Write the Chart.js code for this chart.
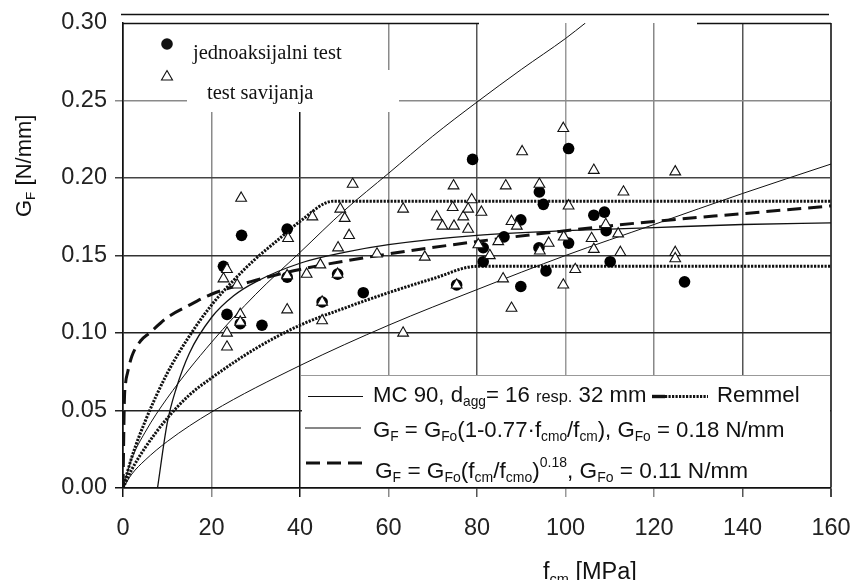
<!DOCTYPE html>
<html>
<head>
<meta charset="utf-8">
<script src="https://cdn.jsdelivr.net/npm/chart.js@4.4.0/dist/chart.umd.min.js"></script>
<style>
  body { margin: 0; background: #fff; }
  #wrap { width: 851px; height: 580px; position: relative; }
</style>
</head>
<body>
<div id="wrap"><canvas id="gfChart"></canvas></div>
<script>
// jednoaksijalni test (filled circles)
var circleX = [22.7, 23.5, 26.5, 26.8, 31.4, 37.1, 37.1, 45.0, 48.5, 54.3, 75.4, 79.0, 81.4, 81.4, 86.1, 89.9, 89.9, 94.1, 95.0, 94.0, 95.6, 100.7, 100.7, 106.4, 108.8, 109.2, 110.1, 126.9];
var circleY = [0.143, 0.112, 0.106, 0.163, 0.105, 0.167, 0.136, 0.120, 0.138, 0.126, 0.131, 0.212, 0.155, 0.146, 0.162, 0.173, 0.130, 0.191, 0.183, 0.155, 0.140, 0.219, 0.158, 0.176, 0.178, 0.166, 0.146, 0.133];

// test savijanja (open triangles)
var triangleX = [22.7, 23.5, 23.5, 23.5, 25.8, 26.5, 26.5, 26.7, 37.1, 37.3, 37.1, 41.5, 42.8, 44.6, 45.0, 45.0, 48.5, 48.6, 49.1, 50.1, 51.1, 51.9, 57.4, 63.3, 63.3, 68.2, 70.9, 72.2, 74.5, 74.7, 74.8, 75.4, 76.9, 78.0, 78.0, 78.8, 80.3, 81.0, 82.9, 84.8, 85.9, 86.5, 87.8, 87.8, 89.0, 90.2, 94.1, 94.2, 96.2, 99.5, 99.6, 99.5, 100.7, 102.2, 105.9, 106.4, 106.4, 109.1, 111.9, 112.4, 113.1, 124.8, 124.8, 124.8];
var triangleY = [0.135, 0.141, 0.100, 0.091, 0.131, 0.112, 0.107, 0.187, 0.137, 0.161, 0.115, 0.138, 0.175, 0.144, 0.120, 0.108, 0.138, 0.155, 0.180, 0.174, 0.163, 0.196, 0.151, 0.180, 0.100, 0.149, 0.175, 0.169, 0.181, 0.195, 0.169, 0.131, 0.175, 0.180, 0.167, 0.186, 0.157, 0.178, 0.150, 0.159, 0.135, 0.195, 0.172, 0.116, 0.169, 0.217, 0.196, 0.153, 0.158, 0.232, 0.162, 0.131, 0.182, 0.141, 0.161, 0.205, 0.154, 0.170, 0.164, 0.152, 0.191, 0.204, 0.152, 0.148];

// MC 90, d_agg = 16 mm
var mc16X = [0, 2, 5, 10, 20, 40, 60, 80, 100, 120, 140, 160];
var mc16Y = [0, 0.009, 0.018, 0.030, 0.049, 0.079, 0.105, 0.128, 0.150, 0.170, 0.190, 0.209];
// MC 90, d_agg = 32 mm
var mc32X = [0, 2, 5, 10, 20, 30, 40, 50, 60, 70, 80, 90, 100, 104.5];
var mc32Y = [0, 0.019, 0.036, 0.058, 0.094, 0.125, 0.152, 0.179, 0.203, 0.227, 0.249, 0.270, 0.290, 0.300];

// Remmel (dotted), upper and lower
var remUpX = [0, 2, 5, 10, 15, 20, 25, 30, 35, 40, 47.5, 160];
var remUpY = [0, 0.020, 0.043, 0.074, 0.098, 0.118, 0.134, 0.148, 0.160, 0.172, 0.185, 0.185];
var remLoX = [0, 2, 5, 10, 15, 20, 30, 40, 50, 60, 70, 80, 160];
var remLoY = [0, 0.012, 0.026, 0.045, 0.060, 0.071, 0.090, 0.105, 0.116, 0.126, 0.135, 0.143, 0.143];

// G_F = G_Fo(1-0.77 f_cmo/f_cm)
var linX = [7.8, 10, 12, 15, 20, 25, 30, 40, 50, 60, 80, 100, 120, 140, 160];
var linY = [0, 0.042, 0.064, 0.087, 0.110, 0.124, 0.133, 0.145, 0.152, 0.157, 0.163, 0.166, 0.168, 0.170, 0.171];

// G_F = G_Fo(f_cm/f_cmo)^0.18 (dashed)
var powX = [0, 0.3, 0.6, 1, 2, 4, 6, 10, 15, 20, 30, 40, 60, 80, 100, 120, 140, 160];
var powY = [0, 0.055, 0.068, 0.074, 0.085, 0.095, 0.100, 0.110, 0.118, 0.125, 0.134, 0.141, 0.151, 0.159, 0.166, 0.172, 0.177, 0.182];

var xTicks = [0, 20, 40, 60, 80, 100, 120, 140, 160];
var yTickLabels = ['0.00', '0.05', '0.10', '0.15', '0.20', '0.25', '0.30'];

function pts(xs, ys) {
    return xs.map(function (x, i) { return { x: x, y: ys[i] }; });
}

var SANS = '"Liberation Sans", Arial, sans-serif';
var SERIF = '"Liberation Serif", "Times New Roman", serif';
var INK = '#111';
var DOTS = [2.2, 1.3];

function curve(xs, ys, width, dash) {
    return {
        type: 'line',
        data: pts(xs, ys),
        showLine: true,
        borderColor: INK,
        borderWidth: width,
        borderDash: dash,
        pointRadius: 0,
        fill: false,
        cubicInterpolationMode: 'monotone'
    };
}

function drawRich(ctx, x, y, parts, size) {
    parts.forEach(function (p) {
        var kind = p[1] || 'n';
        var fs = size, dy = 0;
        if (kind === 'b') { fs = size * 0.62; dy = size * 0.2; }
        if (kind === 'p') { fs = size * 0.62; dy = -size * 0.45; }
        if (kind === 's') { fs = size * 0.74; }
        ctx.font = fs + 'px ' + SANS;
        ctx.fillText(p[0], x, y + dy);
        x += ctx.measureText(p[0]).width;
    });
    return x;
}

function hline(ctx, x1, x2, y, color, width, dash) {
    ctx.save();
    ctx.strokeStyle = color;
    ctx.lineWidth = width;
    ctx.setLineDash(dash || []);
    ctx.beginPath();
    ctx.moveTo(x1, y);
    ctx.lineTo(x2, y);
    ctx.stroke();
    ctx.restore();
}

var decorPlugin = {
    id: 'decor',
    beforeDatasetsDraw: function (chart) {
        var ctx = chart.ctx;
        ctx.save();
        ctx.fillStyle = '#fff';
        // white boxes behind the two legends
        ctx.fillRect(124, 24, 262, 46);
        ctx.fillRect(187, 70, 212, 42);
        ctx.fillRect(302, 376, 528, 111);
        ctx.restore();
        hline(ctx, 301, 830, 375.5, '#999', 1.2);
    },
    afterDatasetsDraw: function (chart) {
        var ctx = chart.ctx;
        ctx.save();
        ctx.fillStyle = INK;
        ctx.textBaseline = 'alphabetic';

        // frame extras
        hline(ctx, 121, 829, 14.5, INK, 1.5);
        hline(ctx, 123, 479, 23.5, INK, 1.5);
        hline(ctx, 697, 831, 23.5, INK, 1.5);

        // upper-left legend
        ctx.beginPath();
        ctx.arc(167, 44, 5.8, 0, Math.PI * 2);
        ctx.fill();
        ctx.beginPath();
        ctx.moveTo(167, 70.5);
        ctx.lineTo(172.5, 80);
        ctx.lineTo(161.5, 80);
        ctx.closePath();
        ctx.lineWidth = 1.1;
        ctx.strokeStyle = INK;
        ctx.stroke();
        ctx.font = '20.5px ' + SERIF;
        ctx.fillText('jednoaksijalni test', 193, 59);
        ctx.fillText('test savijanja', 207, 99);

        // lower-right legend
        var fs = 22.2;
        hline(ctx, 308, 363, 396.5, INK, 1.2);
        drawRich(ctx, 373, 402, [['MC 90, d'], ['agg', 'b'], ['= 16 '], ['resp.', 's'], [' 32 mm']], fs);
        hline(ctx, 652, 665, 396.5, INK, 3.4);
        hline(ctx, 665, 708, 396.5, INK, 3, DOTS);
        drawRich(ctx, 717, 402, [['Remmel']], fs);

        hline(ctx, 305, 361, 428, INK, 1.2);
        drawRich(ctx, 373, 437, [['G'], ['F', 'b'], [' = G'], ['Fo', 'b'], ['(1-0.77\u00b7f'], ['cmo', 'b'], ['/f'], ['cm', 'b'], ['), G'], ['Fo', 'b'], [' = 0.18 N/mm']], fs);

        hline(ctx, 306, 362, 463, INK, 3, [14, 7]);
        drawRich(ctx, 375, 477.5, [['G'], ['F', 'b'], [' = G'], ['Fo', 'b'], ['(f'], ['cm', 'b'], ['/f'], ['cmo', 'b'], [')'], ['0.18', 'p'], [', G'], ['Fo', 'b'], [' = 0.11 N/mm']], 22.6);

        // axis titles
        drawRich(ctx, 543, 579, [['f'], ['cm', 'b'], [' [MPa]']], 23.5);
        ctx.save();
        ctx.translate(31, 217);
        ctx.rotate(-Math.PI / 2);
        drawRich(ctx, 0, 0, [['G'], ['F', 'b'], [' [N/mm]']], 22);
        ctx.restore();
        ctx.restore();
    }
};

var xGridColor = { 0: INK, 20: '#8a8a8a', 40: '#111', 60: '#8a8a8a', 80: '#555', 100: '#999', 120: '#888', 140: '#555', 160: '#444' };
var yGridColor = ['#111', '#222', '#222', '#333', '#444', '#8a8a8a', 'rgba(0,0,0,0)'];

new Chart(document.getElementById('gfChart').getContext('2d'), {
    type: 'scatter',
    data: {
        datasets: [
            {
                label: 'test savijanja',
                data: pts(triangleX, triangleY),
                pointStyle: 'triangle',
                pointRadius: 6.2,
                backgroundColor: '#fff',
                borderColor: INK,
                borderWidth: 1.1
            },
            {
                label: 'jednoaksijalni test',
                data: pts(circleX, circleY),
                pointStyle: 'circle',
                pointRadius: 5.8,
                backgroundColor: '#000',
                borderColor: '#000',
                borderWidth: 0
            },
            curve(powX, powY, 3, [14, 7]),
            curve(linX, linY, 1.3, []),
            curve(mc16X, mc16Y, 1, []),
            curve(mc32X, mc32Y, 1, []),
            curve(remUpX, remUpY, 3, DOTS),
            curve(remLoX, remLoY, 3, DOTS)
        ]
    },
    options: {
        responsive: true,
        maintainAspectRatio: false,
        animation: false,
        layout: { padding: { left: 0, right: 20, top: 23, bottom: 0 } },
        plugins: {
            legend: { display: false },
            tooltip: { enabled: false }
        },
        scales: {
            x: {
                type: 'linear',
                min: 0,
                max: 160,
                afterBuildTicks: function (scale) {
                    scale.ticks = xTicks.map(function (v) { return { value: v }; });
                },
                afterFit: function (scale) {
                    scale.height = 92;
                    scale.paddingLeft = 0;
                    scale.paddingRight = 0;
                },
                ticks: {
                    color: '#222',
                    font: { family: SANS, size: 23.5 },
                    padding: 17,
                    maxRotation: 0
                },
                grid: {
                    color: function (c) { return xGridColor[c.tick.value] || '#888'; },
                    lineWidth: function (c) { return c.tick.value === 160 ? 2 : 1.5; },
                    tickLength: 9
                },
                border: { display: true, color: INK, width: 1.5 }
            },
            y: {
                type: 'linear',
                min: 0,
                max: 0.30,
                afterBuildTicks: function (scale) {
                    scale.ticks = yTickLabels.map(function (t) { return { value: parseFloat(t) }; });
                },
                afterFit: function (scale) {
                    scale.width = 123;
                    scale.paddingTop = 0;
                    scale.paddingBottom = 0;
                },
                ticks: {
                    color: '#222',
                    font: { family: SANS, size: 23.5 },
                    padding: 8,
                    callback: function (v, i) { return yTickLabels[i]; }
                },
                grid: {
                    color: function (c) { return yGridColor[c.index]; },
                    lineWidth: 1.5,
                    tickLength: 8
                },
                border: { display: true, color: INK, width: 1.5 }
            }
        }
    },
    plugins: [decorPlugin]
});
</script>
</body>
</html>
